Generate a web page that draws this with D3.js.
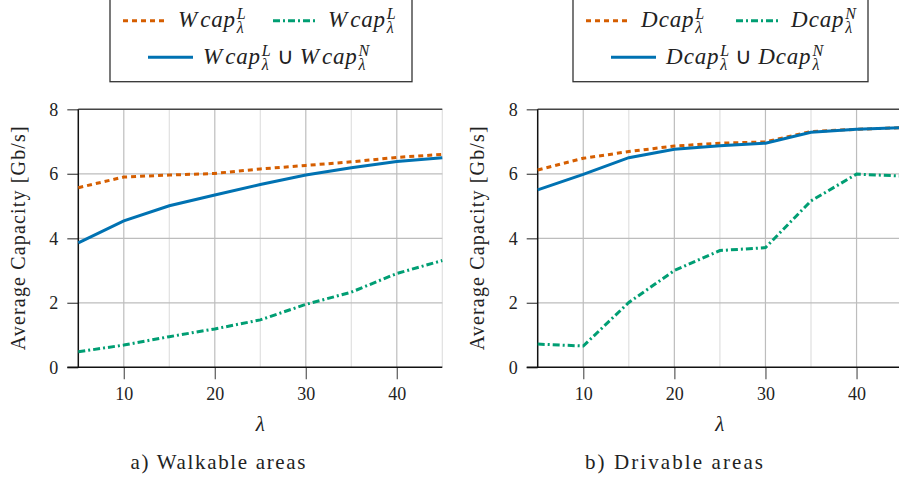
<!DOCTYPE html>
<html>
<head>
<meta charset="utf-8">
<script src="https://cdn.jsdelivr.net/npm/d3@7"></script>
</head>
<body style="margin:0">
<svg id="fig" width="899" height="477" font-family="Liberation Serif"><style>text, tspan { font-family: "Liberation Serif"; }</style></svg>
<script>
// data
const lambdas = [5, 10, 15, 20, 25, 30, 35, 40, 45];

const walkL = [5.57, 5.90, 5.96, 6.01, 6.15, 6.26, 6.37, 6.51, 6.60];
const walkN = [0.48, 0.69, 0.95, 1.19, 1.47, 1.95, 2.33, 2.91, 3.31];
const walkU = [3.86, 4.54, 5.01, 5.34, 5.67, 5.96, 6.19, 6.38, 6.50];

const driveL = [6.12, 6.48, 6.69, 6.86, 6.95, 6.99, 7.31, 7.38, 7.43];
const driveN = [0.72, 0.66, 2.01, 3.00, 3.62, 3.71, 5.16, 5.99, 5.93];
const driveU = [5.50, 5.98, 6.50, 6.76, 6.87, 6.95, 7.29, 7.38, 7.43];

const yTicks = [0, 2, 4, 6, 8];
const xTicks = [10, 20, 30, 40];
const xMinor = [15, 25, 35, 45];

const colors = { L: "#D55E00", N: "#009E73", U: "#0072B2" };
const dashes = { L: "5,4", N: "7,3,2,3", U: null };
const FONT = "Liberation Serif";

const svg = d3.select("#fig");

const panels = [
  { left: 78.3, right: 442.3, ylabX: 20, capX: 218, caption: "a) Walkable areas", capW: 175,
    series: { L: walkL, N: walkN, U: walkU }, sym: "W", n1: "L",
    legend: { x0: 110, x1: 412 } },
  { left: 537.7, right: 902.1, ylabX: 479, capX: 674, caption: "b) Drivable areas", capW: 178,
    series: { L: driveL, N: driveN, U: driveU }, sym: "D", n1: "N",
    legend: { x0: 573, x1: 868 } }
];
const plotTop = 109.3, plotBottom = 367.3;
const legSize = 23;

function measure(txt, size, italic) {
  const t = svg.append("text").attr("font-family", FONT).style("font-family", `"${FONT}"`)
    .attr("font-size", size).attr("font-style", italic ? "italic" : "normal").text(txt);
  const w = t.node().getComputedTextLength();
  t.remove();
  return w;
}

// appends "Xcap^a_λ" as tspans of one text element; returns the shift for the next tspan
function mathTerm(t, sym, sup, pre) {
  t.append("tspan").attr("dx", pre.dx).attr("dy", pre.dy).attr("font-style", "italic").text(sym);
  t.append("tspan").attr("dx", sym === "W" ? 3 : 1).attr("font-style", "italic")
    .attr("letter-spacing", 0.8).text("cap");
  const ss = legSize * 0.7;
  const wSup = measure(sup, ss, true);
  const wSub = measure("λ", ss, true);
  t.append("tspan").attr("dx", 1).attr("dy", -8).attr("font-size", ss)
    .attr("font-style", "italic").text(sup);
  t.append("tspan").attr("dx", -wSup).attr("dy", 14).attr("font-size", ss)
    .attr("font-style", "italic").text("λ");
  return { dx: Math.max(0, wSup - wSub), dy: -6 };
}

panels.forEach(p => {
  const x = d3.scaleLinear().domain([5, 45]).range([p.left, p.right]);
  const y = d3.scaleLinear().domain([0, 8]).range([plotBottom, plotTop]);
  const g = svg.append("g");

  // grid
  g.selectAll(".gm").data(xMinor).enter().append("line")
    .attr("x1", d => x(d)).attr("x2", d => x(d)).attr("y1", plotTop).attr("y2", plotBottom)
    .attr("stroke", "#e0e0e0").attr("stroke-width", 1.2);
  g.selectAll(".gx").data(xTicks).enter().append("line")
    .attr("x1", d => x(d)).attr("x2", d => x(d)).attr("y1", plotTop).attr("y2", plotBottom)
    .attr("stroke", "#bdbdbd").attr("stroke-width", 1.2);
  g.selectAll(".gy").data(yTicks.slice(1, -1)).enter().append("line")
    .attr("x1", p.left).attr("x2", p.right).attr("y1", d => y(d)).attr("y2", d => y(d))
    .attr("stroke", "#bdbdbd").attr("stroke-width", 1.2);

  // top frame
  g.append("line").attr("x1", p.left).attr("x2", p.right).attr("y1", plotTop).attr("y2", plotTop)
    .attr("stroke", "#444").attr("stroke-width", 1.4);

  // y axis
  const yAxis = d3.axisLeft(y).tickValues(yTicks).tickSize(11).tickPadding(9);
  const ya = g.append("g").attr("transform", `translate(${p.left},0)`).call(yAxis)
    .attr("font-family", FONT);
  ya.select(".domain").remove();
  ya.selectAll(".tick line").attr("stroke", "#555").attr("stroke-width", 1.3);
  ya.selectAll(".tick text").attr("font-size", 18).attr("fill", "#222");

  // x axis
  const xAxis = d3.axisBottom(x).tickValues(xTicks).tickSize(12).tickPadding(8);
  const xa = g.append("g").attr("transform", `translate(0,${plotBottom})`).call(xAxis)
    .attr("font-family", FONT);
  xa.select(".domain").remove();
  xa.selectAll(".tick line").attr("stroke", "#666").attr("stroke-width", 1.3);
  xa.selectAll(".tick text").attr("font-size", 18).attr("fill", "#222");

  // axis lines
  g.append("line").attr("x1", p.left - 11).attr("x2", p.right).attr("y1", plotBottom).attr("y2", plotBottom)
    .attr("stroke", "#111").attr("stroke-width", 1.5);
  g.append("line").attr("x1", p.left).attr("x2", p.left).attr("y1", plotTop).attr("y2", plotBottom)
    .attr("stroke", "#111").attr("stroke-width", 1.5);

  // lines
  const line = d3.line().x((d, i) => x(lambdas[i])).y(d => y(d));
  ["L", "N", "U"].forEach(k => {
    g.append("path").datum(p.series[k]).attr("d", line)
      .attr("fill", "none").attr("stroke", colors[k]).attr("stroke-width", 3)
      .attr("stroke-dasharray", dashes[k]);
  });

  // labels
  g.append("text").attr("transform", `translate(${p.ylabX},${(plotTop + plotBottom) / 2}) rotate(-90)`)
    .attr("text-anchor", "middle").attr("dominant-baseline", "middle")
    .attr("font-size", 20).attr("fill", "#222")
    .attr("textLength", 224).attr("lengthAdjust", "spacing")
    .text("Average Capacity [Gb/s]");
  g.append("text").attr("x", (p.left + p.right) / 2).attr("y", 431)
    .attr("text-anchor", "middle").attr("font-size", 21).attr("font-style", "italic")
    .attr("fill", "#222").text("λ");
  g.append("text").attr("x", p.capX).attr("y", 469)
    .attr("text-anchor", "middle").attr("font-size", 21).attr("fill", "#222")
    .attr("textLength", p.capW).attr("lengthAdjust", "spacing").text(p.caption);

  // legend
  const lg = svg.append("g");
  lg.append("rect").attr("x", p.legend.x0).attr("y", -5)
    .attr("width", p.legend.x1 - p.legend.x0).attr("height", 86.7)
    .attr("fill", "#fff").attr("stroke", "#333").attr("stroke-width", 1.3);
  const lx = p.legend.x0;
  const row = (k, x1, x2, ly) => lg.append("line").attr("x1", x1).attr("x2", x2)
    .attr("y1", ly).attr("y2", ly).attr("stroke", colors[k]).attr("stroke-width", 3)
    .attr("stroke-dasharray", dashes[k]);
  const label = (tx, ty) => lg.append("text").attr("x", tx).attr("y", ty)
    .attr("font-size", legSize).attr("fill", "#222");

  row("L", lx + 13, lx + 58, 20.7);
  mathTerm(label(lx + 68, 27), p.sym, "L", { dx: 0, dy: 0 });
  row("N", lx + 163, lx + 208, 20.7);
  mathTerm(label(lx + 218, 27), p.sym, p.n1, { dx: 0, dy: 0 });
  row("U", lx + 38, lx + 83, 57.3);
  const t2 = label(lx + 93, 64);
  const nx = mathTerm(t2, p.sym, "L", { dx: 0, dy: 0 });
  t2.append("tspan").attr("dx", nx.dx + 6).attr("dy", nx.dy).text("∪");
  mathTerm(t2, p.sym, "N", { dx: 6, dy: 0 });
});

// serif face on every text, as attribute and inline style
svg.selectAll("text").attr("font-family", FONT).style("font-family", `"${FONT}"`);
</script>
</body>
</html>
